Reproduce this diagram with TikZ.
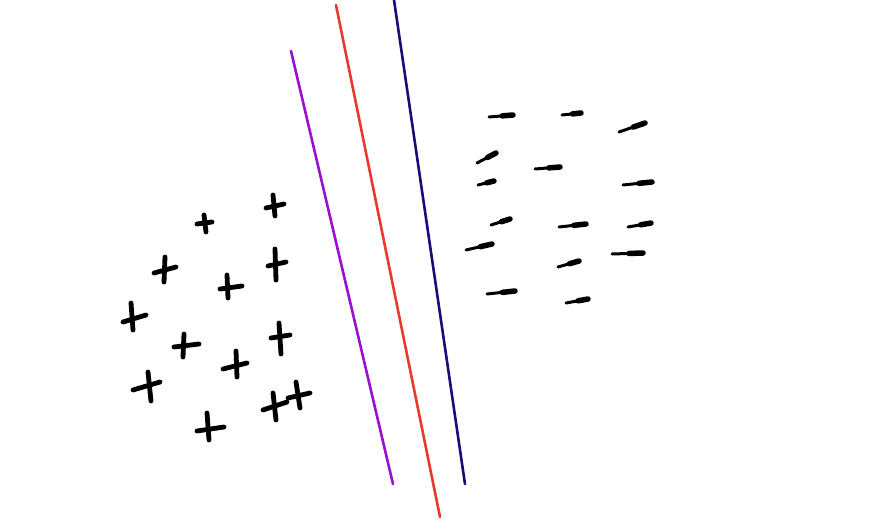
\documentclass[tikz,border=0pt]{standalone}
\usetikzlibrary{calc}
\definecolor{sepviolet}{HTML}{9A10CF}
\definecolor{sepred}{HTML}{E83A2C}
\definecolor{sepnavy}{HTML}{1C0C78}
\tikzset{
  sepline/.style={line width=2.6pt, line cap=round},
  plusstroke/.style={line width=4.8pt, line cap=round, black},
  minusthin/.style={line width=3pt, line cap=round, black},
  minusthick/.style={line width=5.5pt, line cap=round, black},
}
\begin{document}
\begin{tikzpicture}[x=1pt,y=-1pt]
\useasboundingbox[fill=white] (0,0) rectangle (879,530);
% separating lines
\draw[sepline, sepviolet] (291,51) -- (393,484);
\draw[sepline, sepred] (336,5) -- (440,517);
\draw[sepline, sepnavy] (394,0) -- (465,484);
% plus marks
\foreach \ax/\ay/\bx/\by/\cx/\cy/\dx/\dy in {
  197/224/212/222/204/215/206/232,
  266/208/284/204/273/195/275/216,
  154/273/176/267/165/257/164/282,
  268/266/286/262/275/249/276/280,
  220/289/242/286/227/275/228/298,
  123/322/146/315/131/303/133/330,
  174/347/199/344/184/334/183/357,
  271/338/290/335/279/323/281/354,
  223/369/247/363/236/351/237/377,
  133/390/160/382/148/372/151/401,
  263/410/287/402/273/393/276/420,
  288/398/310/393/296/382/300/408,
  197/431/224/427/207/413/209/440}
{
  \draw[plusstroke] (\ax,\ay) -- (\bx,\by);
  \draw[plusstroke] (\cx,\cy) -- (\dx,\dy);
}
% minus marks (tapered: thicker at the right end)
\foreach \ax/\ay/\bx/\by in {
  489/117/513/115,
  562/115/581/113,
  619/132/645/123,
  477/163/496/153,
  535/169/560/167,
  478/185/494/181,
  623/185/652/182,
  491/225/510/219,
  559/227/586/224,
  628/227/651/223,
  466/250/492/244,
  612/254/643/253,
  558/267/579/261,
  487/294/515/291,
  566/303/588/299}
{
  \draw[minusthin] (\ax,\ay) -- (\bx,\by);
  \draw[minusthick] ($(\ax,\ay)!0.55!(\bx,\by)$) -- (\bx,\by);
}
\end{tikzpicture}
\end{document}
